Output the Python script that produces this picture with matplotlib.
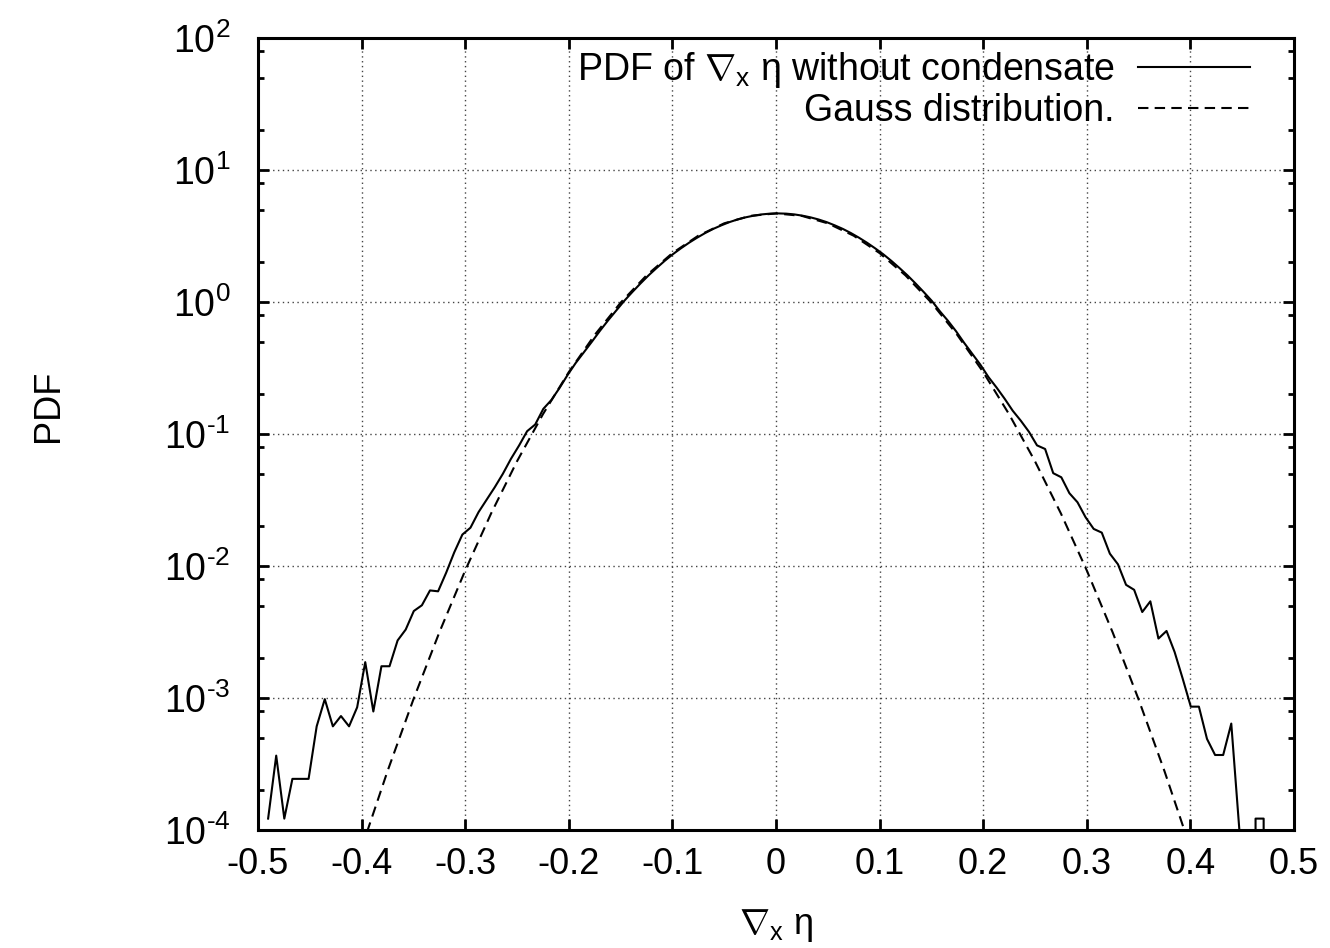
import numpy as np
import matplotlib
matplotlib.use("Agg")
import matplotlib.pyplot as plt
from matplotlib.ticker import FixedLocator, LogLocator, NullFormatter

# histogram of grad_x eta, 128 bins on [-0.5, 0.5], bins 1..127
BIN_WIDTH = 1.0 / 128
pdf_bins = [
    1.22e-4, 3.66e-4, 1.22e-4, 2.44e-4, 2.44e-4, 2.44e-4, 6.1e-4, 9.8e-4, 6.1e-4, 7.3e-4,
    6.1e-4, 8.5e-4, 1.87e-3, 7.9e-4, 1.74e-3, 1.74e-3, 2.73e-3, 3.30e-3, 4.56e-3, 5.04e-3,
    6.53e-3, 6.43e-3, 8.9e-3, 1.27e-2, 1.73e-2, 1.95e-2, 2.56e-2, 3.18e-2, 3.95e-2, 4.99e-2,
    6.48e-2, 8.17e-2, 0.105, 0.118, 0.155, 0.181, 0.223, 0.28, 0.345, 0.415,
    0.50, 0.605, 0.725, 0.86, 1.02, 1.19, 1.38, 1.59, 1.81, 2.05,
    2.30, 2.55, 2.81, 3.07, 3.33, 3.58, 3.81, 4.03, 4.22, 4.38,
    4.51, 4.61, 4.67, 4.69, 4.67, 4.61, 4.51, 4.38, 4.22, 4.03,
    3.81, 3.58, 3.33, 3.07, 2.81, 2.55, 2.30, 2.05, 1.81, 1.59,
    1.38, 1.19, 1.02, 0.85, 0.72, 0.60, 0.49, 0.405, 0.335, 0.27,
    0.225, 0.185, 0.150, 0.126, 0.104, 0.082, 0.077, 0.0505, 0.047, 0.0356,
    0.0304, 0.0234, 0.0191, 0.0179, 0.0124, 0.0103, 0.0072, 0.0066, 0.00448, 0.0054,
    0.00282, 0.00322, 0.00223, 0.00140, 8.6e-4, 8.6e-4, 4.9e-4, 3.7e-4, 3.7e-4, 6.4e-4,
    1.0e-4, 0.0, 1.22e-4, 1.22e-4, 0.0, 0.0, 0.0,
]

# Gauss curve, sampled off the dashed line
gauss_x = [-0.4, -0.375, -0.35, -0.325, -0.3, -0.275, -0.25, -0.225, -0.2, -0.175,
           -0.15, -0.125, -0.1, -0.075, -0.05, -0.025, 0.0, 0.025, 0.05, 0.075,
           0.1, 0.125, 0.15, 0.175, 0.2, 0.225, 0.25, 0.275, 0.3, 0.325,
           0.35, 0.375, 0.4]
gauss_pdf = [7.29e-5, 2.79e-4, 9.76e-4, 3.137e-3, 9.25e-3, 2.501e-2, 6.21e-2, 0.1411, 0.2945, 0.563,
             0.988, 1.590, 2.347, 3.178, 3.945, 4.49, 4.69, 4.49, 3.945, 3.178,
             2.347, 1.590, 0.988, 0.563, 0.2945, 0.1411, 6.21e-2, 2.501e-2, 9.25e-3, 3.137e-3,
             9.76e-4, 2.79e-4, 7.29e-5]

x_ticks = [-0.5, -0.4, -0.3, -0.2, -0.1, 0.0, 0.1, 0.2, 0.3, 0.4, 0.5]
x_tick_labels = ["-0.5", "-0.4", "-0.3", "-0.2", "-0.1", "0", "0.1", "0.2", "0.3", "0.4", "0.5"]
y_ticks = [1e-4, 1e-3, 1e-2, 1e-1, 1e0, 1e1, 1e2]
y_exponents = ["-4", "-3", "-2", "-1", "0", "1", "2"]

plt.rcParams["font.family"] = ["Liberation Sans", "DejaVu Sans"]
plt.rcParams["font.size"] = 26
plt.rcParams["axes.unicode_minus"] = False
plt.rcParams["mathtext.fontset"] = "custom"
plt.rcParams["mathtext.rm"] = "Liberation Sans"
plt.rcParams["mathtext.it"] = "Liberation Sans"
plt.rcParams["mathtext.bf"] = "Liberation Sans:bold"

W, H = 1330, 948
fig = plt.figure(figsize=(W / 100, H / 100), dpi=100)
ax = fig.add_axes([258 / W, 1 - 830 / H, (1294 - 258) / W, (830 - 38) / H])

bin_x = -0.5 + (np.arange(1, len(pdf_bins) + 1) + 0.25) * BIN_WIDTH
ax.plot(bin_x, pdf_bins, color="black", linewidth=1.5,
        label=r"PDF of $\nabla_{\mathrm{x}}\ \eta$ without condensate")
ax.plot(gauss_x, gauss_pdf, color="black", linewidth=1.5, linestyle=(0, (5, 3)),
        label="Gauss distribution.")

ax.set_yscale("log", nonpositive="clip")
ax.set_xlim(-0.5, 0.5)
ax.set_ylim(1e-4, 1e2)

ax.xaxis.set_major_locator(FixedLocator(x_ticks))
ax.set_xticklabels(x_tick_labels)
ax.yaxis.set_major_locator(FixedLocator(y_ticks))
ax.set_yticklabels([r"10$^{\text{%s}}$" % e for e in y_exponents], fontsize=27)
ax.yaxis.set_minor_locator(LogLocator(base=10, subs=(2, 5, 8), numticks=20))
ax.yaxis.set_minor_formatter(NullFormatter())

ax.tick_params(which="both", direction="in", top=True, right=True, width=2)
ax.tick_params(which="major", length=8)
ax.tick_params(axis="x", which="major", pad=12)
ax.tick_params(axis="y", which="major", pad=20)
ax.tick_params(which="minor", length=4)
for s in ax.spines.values():
    s.set_linewidth(2.2)

ax.grid(which="major", color="#444444", linestyle=(0, (1, 2.5)), linewidth=1.0)
ax.set_axisbelow(True)

ax.set_xlabel(r"$\nabla_{\mathrm{x}}\ \eta$", labelpad=18)
ax.set_ylabel("PDF")
ax.yaxis.set_label_coords(-0.185, 0.535)

ax.legend(loc="upper right", bbox_to_anchor=((1250 - 258) / 1036, 0.985),
          frameon=False, markerfirst=False, borderpad=0, borderaxespad=0,
          handlelength=3.0, handletextpad=0.6, labelspacing=0.08, fontsize=27)

fig.savefig("out.png", dpi=100)
